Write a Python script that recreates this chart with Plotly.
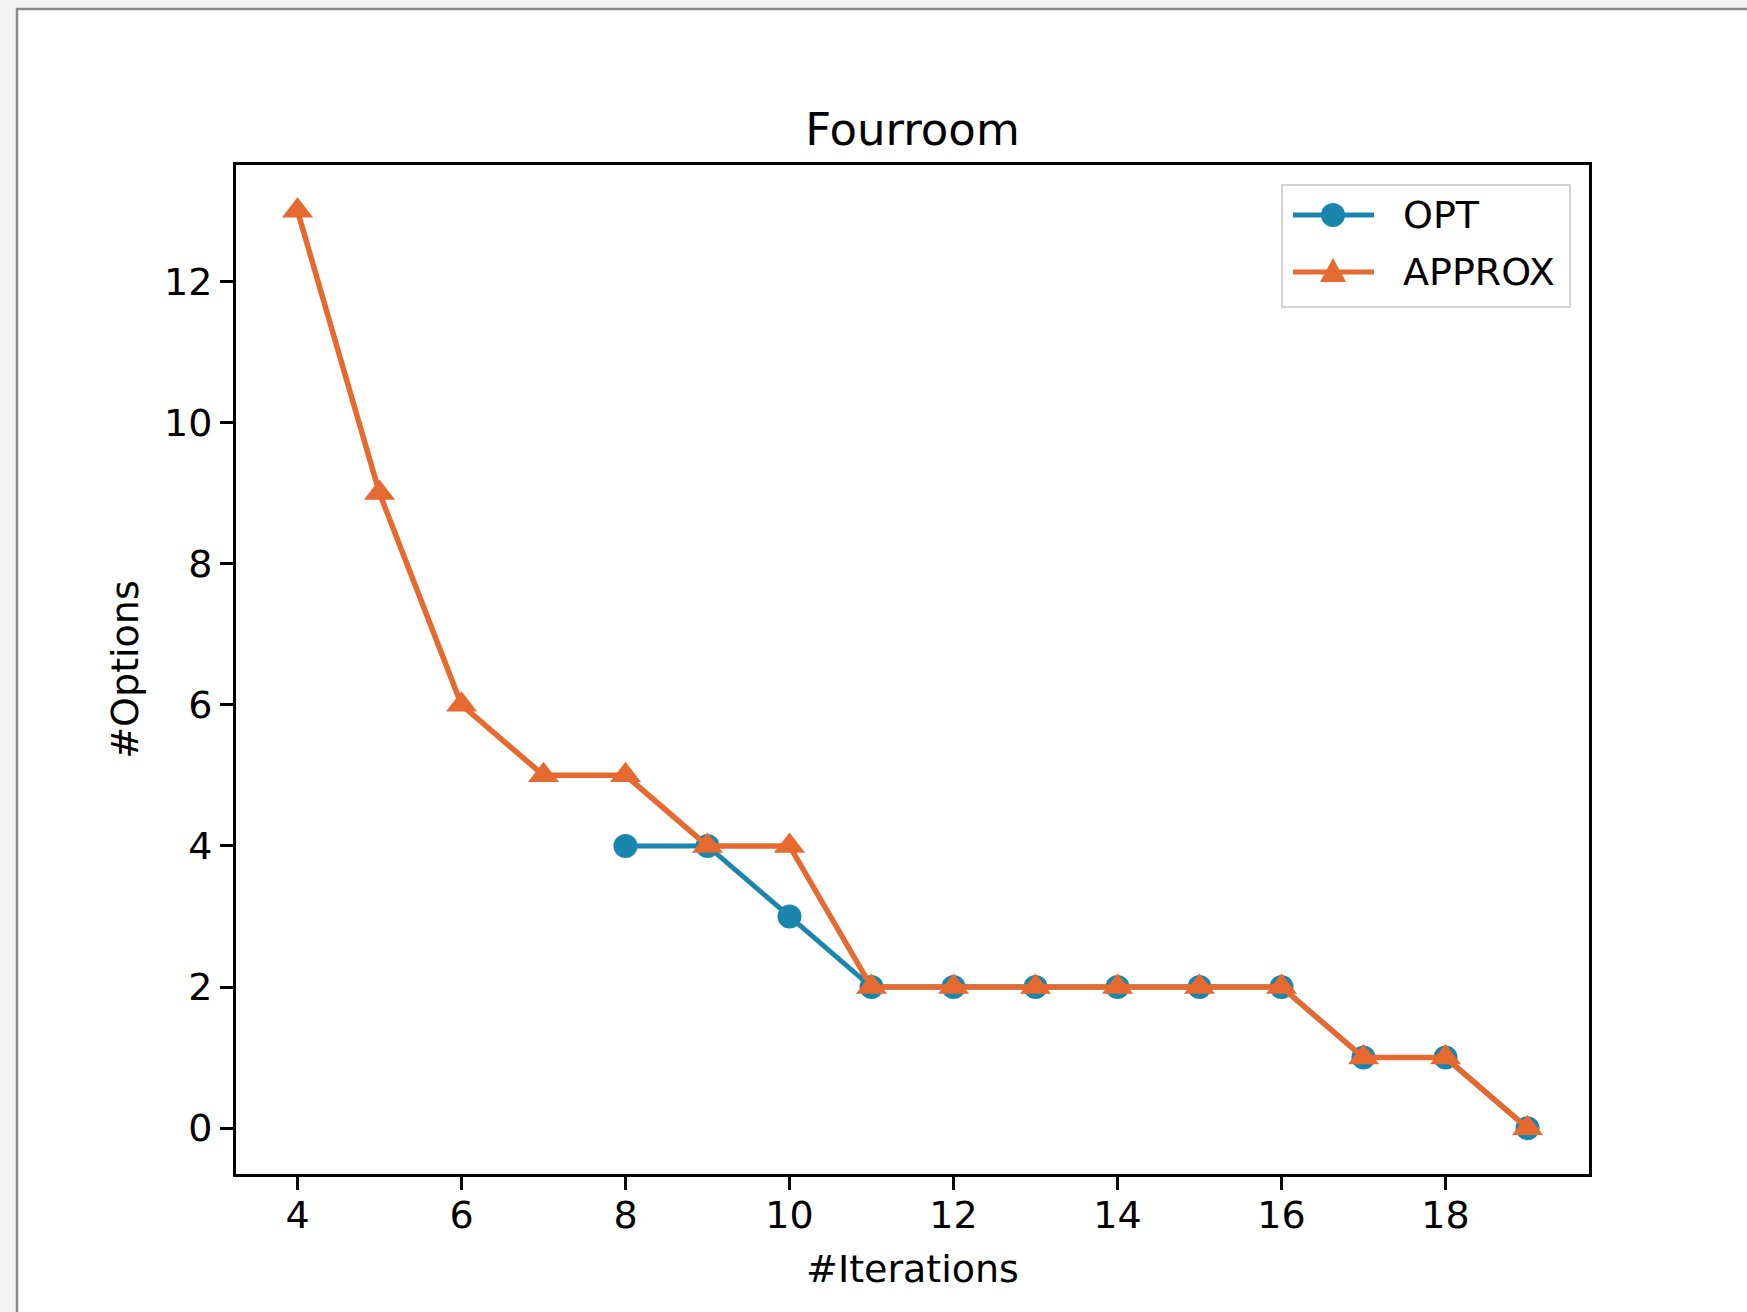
import plotly.graph_objects as go

# Data: number of options found per iteration count
opt_iterations = [8, 9, 10, 11, 12, 13, 14, 15, 16, 17, 18, 19]
opt_options = [4, 4, 3, 2, 2, 2, 2, 2, 2, 1, 1, 0]

approx_iterations = [4, 5, 6, 7, 8, 9, 10, 11, 12, 13, 14, 15, 16, 17, 18, 19]
approx_options = [13, 9, 6, 5, 5, 4, 4, 2, 2, 2, 2, 2, 2, 1, 1, 0]

x_ticks = [4, 6, 8, 10, 12, 14, 16, 18]
y_ticks = [0, 2, 4, 6, 8, 10, 12]

series_names = ["OPT", "APPROX"]
BLUE = "#1b86ad"
ORANGE = "#e6692f"

W, H = 1747, 1312
L, R, T, B = 236, 1589, 165, 1174  # plot area in pixels
FONT = "DejaVu Sans"


def px(x):
    return (x - L) / (R - L)


def py(y):
    return (B - y) / (B - T)


fig = go.Figure()
fig.add_trace(go.Scatter(
    x=opt_iterations, y=opt_options, name=series_names[0], mode="lines+markers",
    line=dict(color=BLUE, width=5),
    marker=dict(symbol="circle", size=24, color=BLUE),
    showlegend=False,
))
fig.add_trace(go.Scatter(
    x=approx_iterations, y=approx_options, name=series_names[1], mode="lines+markers",
    line=dict(color=ORANGE, width=5.5),
    marker=dict(symbol="triangle-up", size=27, color=ORANGE),
    showlegend=False,
))

shapes = []
# white page with a grey frame on its top and left edges
shapes.append(dict(type="rect", xref="paper", yref="paper", layer="below",
                   x0=px(17), x1=px(W + 40), y0=py(H + 40), y1=py(9),
                   fillcolor="white", line=dict(color="#8a8a8a", width=2.5)))

# legend box
shapes.append(dict(type="rect", xref="paper", yref="paper", layer="above",
                   x0=px(1282), x1=px(1570), y0=py(307), y1=py(185),
                   fillcolor="rgba(255,255,255,0.8)", line=dict(color="#d4d4d4", width=2)))
legend_rows = [(215, BLUE, "circle"), (272, ORANGE, "triangle")]
annotations = []
for name, (ry, col, sym) in zip(series_names, legend_rows):
    shapes.append(dict(type="line", xref="paper", yref="paper", layer="above",
                       x0=px(1293), x1=px(1374), y0=py(ry), y1=py(ry),
                       line=dict(color=col, width=5)))
    if sym == "circle":
        shapes.append(dict(type="circle", xref="paper", yref="paper", layer="above",
                           xsizemode="pixel", ysizemode="pixel",
                           xanchor=px(1333), yanchor=py(ry),
                           x0=-12, x1=12, y0=-12, y1=12,
                           fillcolor=col, line=dict(color=col, width=0)))
    else:
        shapes.append(dict(type="path", xref="paper", yref="paper", layer="above",
                           xsizemode="pixel", ysizemode="pixel",
                           xanchor=px(1333), yanchor=py(ry),
                           path="M-13,-10 L13,-10 L0,14 Z",
                           fillcolor=col, line=dict(color=col, width=0)))
    annotations.append(dict(xref="paper", yref="paper", x=px(1401), y=py(ry),
                            xanchor="left", yanchor="middle", showarrow=False,
                            text=name, font=dict(family=FONT, size=38, color="black")))

axis_common = dict(
    showgrid=False, zeroline=False, showline=True, linecolor="black", linewidth=3,
    mirror=True, ticks="outside", ticklen=13, tickwidth=3, tickcolor="black",
    tickfont=dict(family=FONT, size=38, color="black"),
)

fig.update_layout(
    width=W, height=H,
    margin=dict(l=L, r=W - R, t=T, b=H - B, autoexpand=False),
    paper_bgcolor="#f3f3f3", plot_bgcolor="white",
    title=dict(text="Fourroom", x=0.5, xref="paper", y=1 - 129 / H, yref="container",
               xanchor="center", yanchor="middle",
               font=dict(family=FONT, size=45, color="black")),
    xaxis=dict(range=[3.25, 19.75], tickvals=x_ticks, ticklabelstandoff=-8,
               title=dict(text="#Iterations", standoff=20,
                          font=dict(family=FONT, size=38, color="black")),
               **axis_common),
    yaxis=dict(range=[-0.65, 13.65], tickvals=y_ticks,
               title=dict(text="#Options", standoff=14,
                          font=dict(family=FONT, size=38, color="black")),
               **axis_common),
    shapes=shapes,
    annotations=annotations,
)

fig.write_html("out.html")
